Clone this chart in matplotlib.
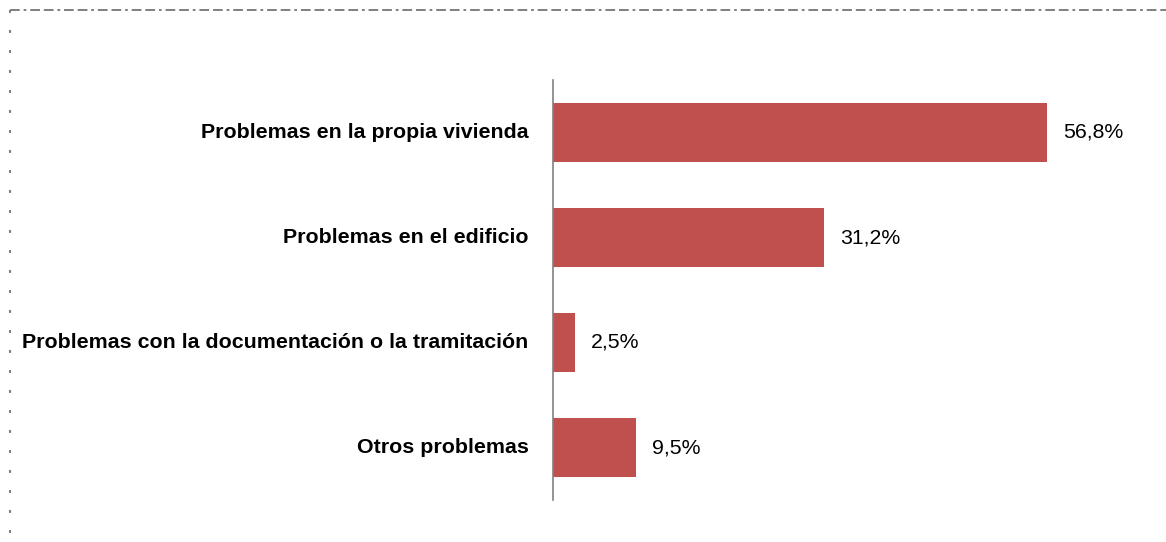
import matplotlib
matplotlib.use("Agg")
import matplotlib.pyplot as plt
from matplotlib.lines import Line2D

categories = ["Problemas en la propia vivienda", "Problemas en el edificio",
              "Problemas con la documentación o la tramitación", "Otros problemas"]
values = [56.8, 31.2, 2.5, 9.5]
value_labels = ["56,8%", "31,2%", "2,5%", "9,5%"]

plt.rcParams['font.family'] = ['Liberation Sans', 'DejaVu Sans']

W, H = 1166, 542
fig = plt.figure(figsize=(W / 100, H / 100), dpi=100)

# axes placed in pixel terms of the reference
x0, x1 = 553, 1130
ytop, ybot = 80, 500
ax = fig.add_axes([x0 / W, 1 - ybot / H, (x1 - x0) / W, (ybot - ytop) / H])

bar_color = "#C0504D"
pos = list(range(len(categories)))
ax.barh(pos, values, height=0.57, color=bar_color)
ax.set_ylim(len(categories) - 0.5, -0.5)
ax.set_xlim(0, (x1 - x0) / 8.70)

for p, v, lab in zip(pos, values, value_labels):
    ax.annotate(lab, (v, p), xytext=(11.5, 0), textcoords="offset points",
                va="center", ha="left", fontsize=15.3, color="black")

for p, cat in zip(pos, categories):
    ax.annotate(cat, (0, p), xytext=(-17.5, 0), textcoords="offset points",
                va="center", ha="right", fontsize=15.4, fontweight="bold")

for s in ["top", "right", "bottom"]:
    ax.spines[s].set_visible(False)
ax.spines["left"].set_color("#808080")
ax.spines["left"].set_linewidth(1.2)
ax.set_xticks([])
ax.set_yticks([])

# dashed frame around the chart
fig.add_artist(Line2D([10 / W, 1], [1 - 10 / H, 1 - 10 / H], transform=fig.transFigure,
                      color="#7f7f7f", linewidth=1.4, linestyle=(0, (5, 2, 1.4, 2, 5, 2))))
fig.add_artist(Line2D([10 / W, 10 / W], [1 - 10 / H, 0], transform=fig.transFigure,
                      color="#7f7f7f", linewidth=1.5, linestyle=(0, (1.4, 8.2))))

fig.savefig("out.png", dpi=100)
